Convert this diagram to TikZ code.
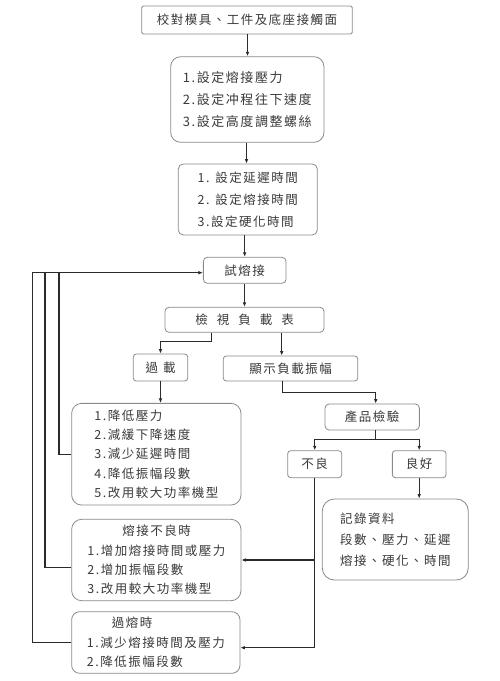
\documentclass[tikz,border=0pt]{standalone}
\usepackage{fontspec}
\setmainfont{Noto Sans CJK TC}
\newfontfamily\cjk[LetterSpace=12]{Noto Sans CJK TC}
\usetikzlibrary{arrows.meta,calc}
\definecolor{boxc}{HTML}{8A8A8A}
\definecolor{linec}{HTML}{2B2B2B}
\definecolor{txtc}{HTML}{3A3A3A}
\begin{document}
\begin{tikzpicture}[x=1pt,y=-1pt,
  box/.style={draw=boxc, line width=0.8pt, inner sep=0pt, text=txtc,
    font=\cjk\fontsize{12.5}{19.3}\selectfont},
  arr/.style={-{Latex[length=4.5pt,width=3.6pt]}},
  ln/.style={draw=linec, line width=1.1pt}]
\useasboundingbox (0,0) rectangle (500,681);
\fill[white] (0,0) rectangle (500,681);

\node[box, rounded corners=1.5pt, minimum width=210.6pt, minimum height=28pt] (b1) at (247,20) {校對模具、工件及底座接觸面};
\node[box, rounded corners=10pt, minimum width=153.3pt, minimum height=85.6pt, align=left,
  font=\cjk\fontsize{13}{22}\selectfont] (b2) at (247.3,99.5)
  {1.設定熔接壓力\\2.設定冲程往下速度\\3.設定高度調整螺絲};
\node[box, rounded corners=5pt, minimum width=139pt, minimum height=71pt, align=left,
  font=\cjk\fontsize{12.5}{22}\selectfont] (b3) at (247.8,199.5)
  {1. 設定延遲時間\\2. 設定熔接時間\\3.設定硬化時間};
\node[box, rounded corners=4pt, minimum width=82.7pt, minimum height=26pt] (try) at (244.7,270.3) {試熔接};
\node[box, rounded corners=4pt, minimum width=159pt, minimum height=25pt] (chk) at (244.5,319.8)
  {檢\hspace{9pt}視\hspace{9pt}負\hspace{9pt}載\hspace{9pt}表};
\node[box, rounded corners=3pt, minimum width=54.4pt, minimum height=27pt] (ovl) at (160.5,367.5) {過\hspace{5pt}載};
\node[box, rounded corners=3pt, minimum width=134.4pt, minimum height=25pt] (disp) at (290.5,368.5) {顯示負載振幅};
\node[box, rounded corners=10pt, minimum width=169.3pt, minimum height=101.7pt, align=left] (b4) at (156.3,454.2)
  {1.降低壓力\\2.減緩下降速度\\3.減少延遲時間\\4.降低振幅段數\\5.改用較大功率機型};
\node[box, rounded corners=4pt, minimum width=94.3pt, minimum height=26pt] (prod) at (372.2,417) {產品檢驗};
\node[box, rounded corners=3pt, minimum width=54pt, minimum height=27pt] (bad) at (314.7,464.2) {不良};
\node[box, rounded corners=3pt, minimum width=53.7pt, minimum height=27pt] (good) at (419.2,464.2) {良好};
\node[box, rounded corners=12pt, minimum width=146pt, minimum height=81pt, align=left,
  font=\cjk\fontsize{12.5}{21}\selectfont] (rec) at (395.3,539.5)
  {記錄資料\\段數、壓力、延遲\\熔接、硬化、時間};
\node[box, rounded corners=10pt, minimum width=169.3pt, minimum height=81.4pt, align=left] (b5) at (156.3,560)
  {\hspace{35pt}熔接不良時\\1.增加熔接時間或壓力\\2.增加振幅段數\\3.改用較大功率機型};
\node[box, rounded corners=8pt, minimum width=168.3pt, minimum height=61.6pt, align=left] (b6) at (155.8,642.5)
  {\hspace{25pt}過熔時\\1.減少熔接時間及壓力\\2.降低振幅段數};

% main flow
\draw[ln,arr] ([xshift=0.5pt]b1.south) -- ([xshift=0.5pt]b1.south |- b2.north);
\draw[ln,arr] ([xshift=-0.8pt]b2.south) -- ([xshift=-0.8pt]b2.south |- b3.north);
\draw[ln,arr] (try.north |- b3.south) -- (try.north);
\draw[ln,arr] ([xshift=-0.2pt]try.south) -- ([xshift=-0.2pt]try.south |- chk.north);
\draw[ln,arr] ([xshift=-32.8pt]chk.south) -- ++(0,8.7) -| (ovl.north);
\draw[ln,arr] ([xshift=37.2pt]chk.south) -- ([xshift=37.2pt]chk.south |- disp.north);
\draw[ln,arr] ([xshift=-7.8pt]disp.south) -- ++(0,11.3) -| ([xshift=3.5pt]prod.north);
\draw[ln,arr] (ovl.south) -- (ovl.south |- b4.north);
\draw[ln] ([xshift=3pt]prod.south) -- ++(0,9.3) coordinate (sp);
\draw[ln,arr] (sp) -| (bad.north);
\draw[ln,arr] (sp) -| (good.north);
\draw[ln,arr] (good.south) -- (good.south |- rec.north);
\draw[ln,arr] (bad.south) |- ([yshift=-5.2pt]b6.east);
\draw[ln,arr] (bad.south |- b5.east) -- (b5.east);

% feedback
\coordinate (f1) at (59,272.7);
\coordinate (f2) at (45,272.7);
\coordinate (f3) at (32.3,272.7);
\draw[ln] (b4.west) -| (f1);
\draw[ln] ([yshift=-7.3pt]b5.west) -| (f2);
\draw[ln] (b6.west) -| (f3);
\draw[ln,arr] (f3) -- (f3 -| try.west);
\end{tikzpicture}
\end{document}
